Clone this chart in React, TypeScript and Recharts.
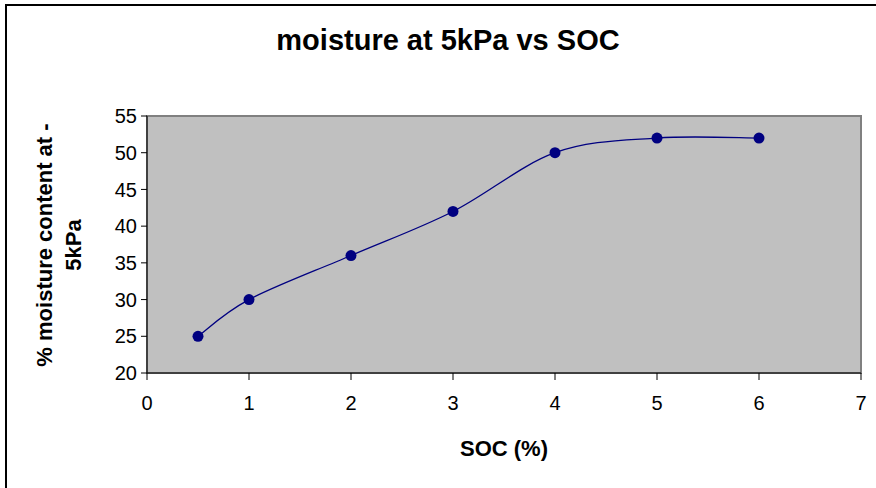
import { Line, LineChart, ReferenceArea, XAxis, YAxis } from 'recharts';

const soc = [0.5, 1, 2, 3, 4, 5, 6];
const moisture = [25, 30, 36, 42, 50, 52, 52];
const xTicks = [0, 1, 2, 3, 4, 5, 6, 7];
const yTicks = [20, 25, 30, 35, 40, 45, 50, 55];

const data = soc.map((x, i) => ({ soc: x, moisture: moisture[i] }));

const font = '"Liberation Sans", Arial, sans-serif';

// Excel-style smoothed line (Catmull-Rom through the points)
function smoothCurve(context: any) {
  let pts: number[][] = [];
  return {
    areaStart() {},
    areaEnd() {},
    lineStart() {
      pts = [];
    },
    point(x: number, y: number) {
      pts.push([+x, +y]);
    },
    lineEnd() {
      if (!pts.length) return;
      context.moveTo(pts[0][0], pts[0][1]);
      for (let i = 0; i < pts.length - 1; i++) {
        const p0 = pts[i - 1] || pts[i];
        const p1 = pts[i];
        const p2 = pts[i + 1];
        const p3 = pts[i + 2] || pts[i + 1];
        context.bezierCurveTo(
          p1[0] + (p2[0] - p0[0]) / 6,
          p1[1] + (p2[1] - p0[1]) / 6,
          p2[0] - (p3[0] - p1[0]) / 6,
          p2[1] - (p3[1] - p1[1]) / 6,
          p2[0],
          p2[1],
        );
      }
    },
  };
}

export default function App() {
  return (
    <div
      style={{
        position: 'fixed',
        left: 0,
        top: 0,
        width: 876,
        height: 488,
        overflow: 'hidden',
        background: '#fff',
        fontFamily: font,
      }}
    >
      <div
        style={{
          position: 'absolute',
          left: 5,
          top: 4,
          width: 900,
          height: 600,
          border: '2px solid #000',
        }}
      />
      <LineChart
        width={876}
        height={488}
        data={data}
        margin={{ top: 116, right: 15, bottom: 0, left: 0 }}
      >
        <ReferenceArea x1={0} x2={7} y1={20} y2={55} fill="#C0C0C0" fillOpacity={1} stroke="#808080" strokeWidth={2} />
        <XAxis
          dataKey="soc"
          type="number"
          domain={[0, 7]}
          ticks={xTicks}
          height={115}
          tickSize={7}
          tickMargin={16}
          stroke="#000"
          tick={{ fill: '#000', fontSize: 20, fontFamily: font }}
          allowDataOverflow
        />
        <YAxis
          type="number"
          domain={[20, 55]}
          ticks={yTicks}
          width={147}
          tickSize={6}
          tickMargin={4}
          stroke="#000"
          tick={{ fill: '#000', fontSize: 20, fontFamily: font }}
          allowDataOverflow
        />
        <Line
          dataKey="moisture"
          type={smoothCurve as any}
          stroke="#000080"
          strokeWidth={1.3}
          dot={{ r: 5.5, fill: '#000080', stroke: 'none' }}
          activeDot={false}
          isAnimationActive={false}
        />
      </LineChart>
      <div
        style={{
          position: 'absolute',
          left: 0,
          width: 896,
          top: 22,
          textAlign: 'center',
          fontSize: 29,
          fontWeight: 'bold',
          lineHeight: '36px',
        }}
      >
        moisture at 5kPa vs SOC
      </div>
      <div
        style={{
          position: 'absolute',
          left: 404,
          width: 200,
          top: 436,
          textAlign: 'center',
          fontSize: 22,
          fontWeight: 'bold',
          lineHeight: '26px',
        }}
      >
        SOC (%)
      </div>
      <div
        style={{
          position: 'absolute',
          left: 59 - 160,
          top: 245 - 29,
          width: 320,
          height: 58,
          transform: 'rotate(-90deg)',
          textAlign: 'center',
          fontSize: 22,
          fontWeight: 'bold',
          lineHeight: '29px',
        }}
      >
        % moisture content at -
        <br />
        5kPa
      </div>
    </div>
  );
}
